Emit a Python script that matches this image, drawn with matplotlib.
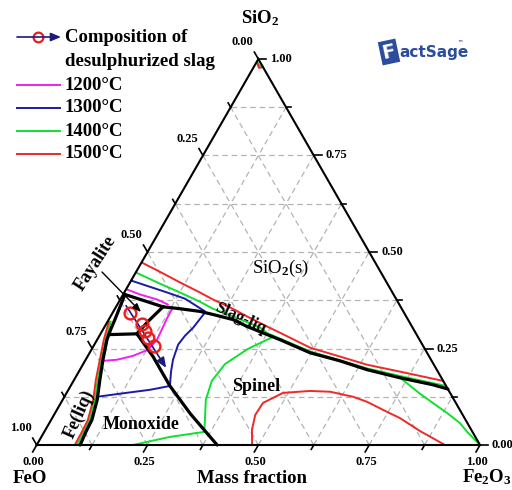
import numpy as np
import matplotlib
matplotlib.use("Agg")
import matplotlib.pyplot as plt

plt.rcParams.update({
    "font.family": "Liberation Serif",
    "font.weight": "bold",
    "mathtext.fontset": "custom",
    "mathtext.rm": "Liberation Serif",
    "mathtext.it": "Liberation Serif:italic",
    "mathtext.bf": "Liberation Serif:bold",
})

# every composition is (Fe2O3, SiO2) mass fraction, FeO = 1 - Fe2O3 - SiO2
TICKS = [0.0, 0.25, 0.5, 0.75, 1.0]
MINOR = [0.125, 0.375, 0.625, 0.875]
GRID = [0.125, 0.25, 0.375, 0.5, 0.625, 0.75, 0.875]

# phase boundaries (black)
FE_LIQ_BOUND = [(0.098, 0.0), (0.094, 0.034), (0.092, 0.065), (0.078, 0.117),
                (0.058, 0.169), (0.039, 0.221), (0.022, 0.273), (0.017, 0.301),
                (0.014, 0.325), (0.010, 0.351), (0.007, 0.371), (0.004, 0.390)]
FAYALITE_TOP = [(0.004, 0.390), (0.106, 0.358)]
SLAG_LIQ = [(0.106, 0.358), (0.147, 0.353), (0.196, 0.346), (0.229, 0.338),
            (0.280, 0.325), (0.321, 0.307), (0.377, 0.286), (0.412, 0.273),
            (0.497, 0.239), (0.575, 0.218), (0.648, 0.195), (0.733, 0.174),
            (0.816, 0.156), (0.855, 0.145)]
FAYALITE_RIGHT = [(0.106, 0.358), (0.091, 0.320), (0.082, 0.288)]
FAYALITE_LOW = [(0.082, 0.288), (0.020, 0.286)]
MONOXIDE_BOUND = [(0.082, 0.288), (0.148, 0.229), (0.224, 0.153),
                  (0.306, 0.081), (0.407, 0.0)]

# isotherms
ISO_1200 = [
    [(0.002, 0.403), (0.038, 0.390), (0.083, 0.377), (0.114, 0.364)],
    [(0.041, 0.218), (0.071, 0.221), (0.102, 0.231), (0.128, 0.247),
     (0.135, 0.273), (0.132, 0.307), (0.130, 0.327), (0.129, 0.353)],
]
ISO_1300 = [
    [(0.000, 0.426), (0.050, 0.410), (0.097, 0.395), (0.145, 0.379),
     (0.207, 0.346)],
    [(0.208, 0.343), (0.201, 0.304), (0.193, 0.283), (0.189, 0.260),
     (0.197, 0.221), (0.208, 0.190), (0.224, 0.153)],
    [(0.074, 0.125), (0.122, 0.133), (0.184, 0.143), (0.224, 0.153)],
]
ISO_1400 = [
    [(0.000, 0.447), (0.069, 0.418), (0.126, 0.395), (0.183, 0.371),
     (0.221, 0.353), (0.277, 0.333), (0.352, 0.304), (0.377, 0.289),
     (0.497, 0.242), (0.648, 0.198), (0.738, 0.177), (0.847, 0.153)],
    [(0.390, 0.278), (0.352, 0.249), (0.320, 0.210), (0.312, 0.166),
     (0.323, 0.117), (0.347, 0.065), (0.361, 0.034)],
    [(0.361, 0.034), (0.290, 0.021), (0.217, 0.0)],
    [(0.733, 0.174), (0.798, 0.133), (0.839, 0.109), (0.884, 0.083),
     (0.926, 0.057), (0.954, 0.034), (1.0, 0.0)],
    [(0.007, 0.320), (0.019, 0.273), (0.036, 0.221), (0.053, 0.169),
     (0.073, 0.117), (0.087, 0.065), (0.089, 0.034), (0.091, 0.0)],
    [(0.004, 0.990), (0.012, 0.982), (0.016, 0.984)],
]
ISO_1500 = [
    [(0.000, 0.473), (0.053, 0.449), (0.113, 0.421), (0.171, 0.395),
     (0.209, 0.377), (0.266, 0.353), (0.308, 0.333), (0.366, 0.307),
     (0.403, 0.291), (0.491, 0.252), (0.570, 0.229), (0.641, 0.208),
     (0.725, 0.190), (0.834, 0.166)],
    [(0.486, 0.0), (0.466, 0.039), (0.454, 0.078), (0.456, 0.109),
     (0.488, 0.135), (0.546, 0.140), (0.593, 0.138), (0.651, 0.125),
     (0.689, 0.112), (0.747, 0.086), (0.784, 0.070), (0.847, 0.036),
     (0.921, 0.0)],
    [(0.003, 0.320), (0.015, 0.273), (0.032, 0.221), (0.049, 0.169),
     (0.069, 0.117), (0.083, 0.065), (0.085, 0.034), (0.086, 0.0)],
    [(0.002, 0.990), (0.013, 0.977), (0.021, 0.979)],
]
SLAG_COMP = [(0.039, 0.343), (0.080, 0.314), (0.096, 0.296),
             (0.112, 0.278), (0.136, 0.257)]
SLAG_PATH = [(0.021, 0.361), (0.192, 0.200)]

ISOTHERMS = [("1200°C", "#f020f0", ISO_1200), ("1300°C", "#1a1aa8", ISO_1300),
             ("1400°C", "#10e030", ISO_1400), ("1500°C", "#f02828", ISO_1500)]
NAVY = "#1a1a80"

# pixel layout of the reference picture
W, H = 512, 490
LEFT_PX, RIGHT_PX, BASE_PX, APEX_PX = 36.7, 480.0, 445.0, 59.0
SX = RIGHT_PX - LEFT_PX
SY = (BASE_PX - APEX_PX) / (np.sqrt(3) / 2)


def tern(pts):
    pts = np.asarray(pts, dtype=float)
    b, s = pts[:, 0], pts[:, 1]
    return b + s / 2, s * np.sqrt(3) / 2


def pix(px, py):
    return (px - LEFT_PX) / SX, (BASE_PX - py) / SY


def shift(x, y, dx, dy):
    return x + dx / SX, y - dy / SY


fig = plt.figure(figsize=(W / 100, H / 100), dpi=100)
ax = fig.add_axes([0, 0, 1, 1])
ax.set_xlim(-LEFT_PX / SX, (W - LEFT_PX) / SX)
ax.set_ylim(-(H - BASE_PX) / SY, BASE_PX / SY)
ax.axis("off")

# grid
gkw = dict(color="#b4b4b4", lw=0.9, ls=(0, (4.5, 3)), zorder=1)
for t in GRID:
    for seg in ([(0, t), (1 - t, t)], [(t, 0), (t, 1 - t)], [(1 - t, 0), (0, 1 - t)]):
        ax.plot(*tern(seg), **gkw)

# frame
ax.plot(*tern([(0, 0), (1, 0), (0, 1), (0, 0)]), color="black", lw=1.5,
        zorder=6, solid_joinstyle="miter")

# ticks and labels
for t in TICKS + MINOR:
    L = 8 if t in TICKS else 5
    # right (SiO2)
    x, y = tern([(1 - t, t)])
    x, y = x[0], y[0]
    ax.plot([x, shift(x, y, L, 0)[0]], [y, y], color="black", lw=1.2)
    if t in TICKS:
        ax.text(*shift(x, y, 12, 0), f"{t:.2f}", fontsize=9, ha="left", va="center")
    # left (FeO)
    x, y = tern([(0, 1 - t)])
    x, y = x[0], y[0]
    x2, y2 = shift(x, y, -0.5 * L, -0.866 * L)
    ax.plot([x, x2], [y, y2], color="black", lw=1.2)
    if t in TICKS:
        ax.text(*shift(x, y, -16, -17), f"{t:.2f}", fontsize=9, ha="center", va="center")
    # bottom (Fe2O3)
    x, y = tern([(t, 0)])
    x, y = x[0], y[0]
    x2, y2 = shift(x, y, -0.5 * L, 0.866 * L)
    ax.plot([x, x2], [y, y2], color="black", lw=1.2)
    if t in TICKS:
        ax.text(*shift(x, y, -3, 17), f"{t:.2f}", fontsize=9, ha="center", va="center")

# isotherms
for name, col, curves in ISOTHERMS:
    for c in curves:
        ax.plot(*tern(c), color=col, lw=1.4, zorder=3, solid_capstyle="round")

# phase boundaries
for c in [FE_LIQ_BOUND, FAYALITE_TOP, SLAG_LIQ, FAYALITE_RIGHT, FAYALITE_LOW,
          MONOXIDE_BOUND]:
    ax.plot(*tern(c), color="black", lw=2.3, zorder=4, solid_capstyle="round",
            solid_joinstyle="round")

# desulphurized slag compositions
px_, py_ = tern(SLAG_PATH)
ax.annotate("", xy=(px_[1], py_[1]), xytext=(px_[0], py_[0]), zorder=7,
            arrowprops=dict(arrowstyle="-|>,head_length=0.6,head_width=0.25",
                            color=NAVY, lw=1.2, shrinkA=0, shrinkB=0))
ax.plot(*tern(SLAG_COMP), "o", ms=8.5, mfc="none", mec="#ee1c1c", mew=1.7, zorder=8)

# region labels
ax.text(*pix(260, 18), "SiO$_\\mathbf{2}$", fontsize=13.5, ha="center", va="center")
ax.text(*pix(30, 478), "FeO", fontsize=13.5, ha="center", va="center")
ax.text(*pix(252, 478), "Mass fraction", fontsize=13.5, ha="center", va="center")
ax.text(*pix(487, 477), "Fe$_\\mathbf{2}$O$_\\mathbf{3}$", fontsize=13.5,
        ha="center", va="center")
ax.text(*pix(281, 268), "SiO$_2$(s)", fontsize=13.5, fontweight="normal",
        ha="center", va="center")
ax.text(*pix(256, 386), "Spinel", fontsize=13, ha="center", va="center", zorder=9)
ax.text(*pix(141, 424), "Monoxide", fontsize=13, ha="center", va="center", zorder=9)
ax.text(*pix(240, 318), "Slag-liq", fontsize=12, ha="center", va="center",
        rotation=-25, zorder=9)
ax.text(*pix(95, 263), "Fayalite", fontsize=13, ha="center", va="center",
        rotation=57, zorder=9)
ax.text(*pix(79, 414), "Fe(liq)", fontsize=13, ha="center", va="center",
        rotation=66, zorder=9)
ax.annotate("", xy=pix(141, 312), xytext=pix(102, 272), zorder=9,
            arrowprops=dict(arrowstyle="-|>,head_length=0.5,head_width=0.2",
                            color="black", lw=1.0, shrinkA=0, shrinkB=0))

# legend
ax.annotate("", xy=pix(61, 37), xytext=pix(17, 37),
            arrowprops=dict(arrowstyle="-|>,head_length=0.6,head_width=0.25",
                            color=NAVY, lw=1.2, shrinkA=0, shrinkB=0))
ax.plot(*pix(38, 37), "o", ms=7, mfc="white", mec="#ee1c1c", mew=1.6)
ax.text(*pix(65, 37), "Composition of", fontsize=13.5, ha="left", va="center")
ax.text(*pix(65, 61), "desulphurized slag", fontsize=13.5, ha="left", va="center")
for i, (name, col, _) in enumerate(ISOTHERMS):
    yy = 85 + 23 * i
    x1, y1 = pix(17, yy)
    x2, _ = pix(60, yy)
    ax.plot([x1, x2], [y1, y1], color=col, lw=1.4)
    ax.text(*pix(65, yy), name, fontsize=13.5, ha="left", va="center")

# FactSage logo
ax.text(*pix(389, 52), "F", fontsize=14, color="white", ha="center", va="center",
        rotation=12, fontfamily="DejaVu Sans",
        bbox=dict(boxstyle="square,pad=0.12", fc="#2c4c9c", ec="none"))
ax.text(*pix(399, 53), "actSage", fontsize=11, color="#2c4c9c", ha="left",
        va="center", fontfamily="DejaVu Sans")
ax.text(*pix(457, 44), "™", fontsize=4, color="#2c4c9c", ha="left",
        va="center", fontfamily="DejaVu Sans")

fig.savefig("out.png", dpi=100, facecolor="white")
